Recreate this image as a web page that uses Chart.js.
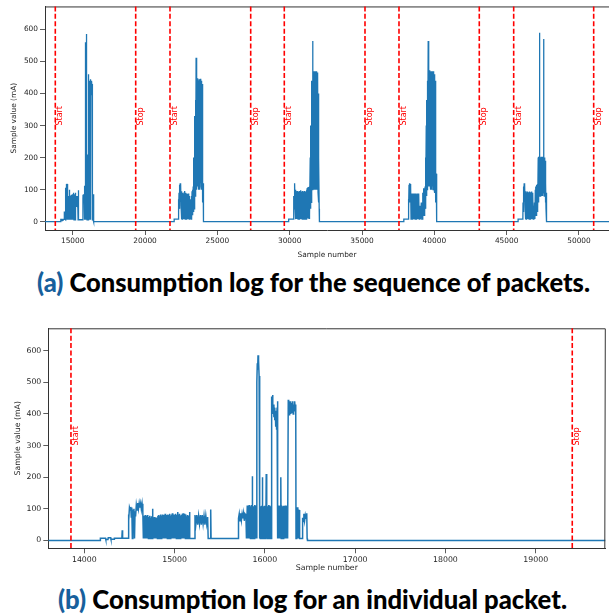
<!DOCTYPE html>
<html>
<head>
<meta charset="utf-8">
<script src="https://cdn.jsdelivr.net/npm/chart.js@4.4.1/dist/chart.umd.min.js"></script>
<style>
  html, body { margin: 0; padding: 0; background: #fff; overflow: hidden; }
  body { width: 609px; height: 614px; position: relative; }
  .box { position: absolute; left: 0; width: 609px; }
  #boxA { top: 0; height: 262px; }
  #boxB { top: 320px; height: 260px; }
  .caption {
    position: absolute; white-space: nowrap; transform-origin: left center;
    font-family: Lato, "Open Sans", sans-serif; font-weight: 900; font-size: 27px;
    line-height: 27px; color: #000;
  }
  .caption .tag { color: #17609c; }
</style>
</head>
<body>
<div class="box" id="boxA"><canvas id="chartA"></canvas></div>
<div class="caption" id="capA" style="left:37px; top:268px" data-w="553"><span class="tag">(a)</span> Consumption log for the sequence of packets.</div>
<div class="box" id="boxB"><canvas id="chartB"></canvas></div>
<div class="caption" id="capB" style="left:58px; top:585px" data-w="509"><span class="tag">(b)</span> Consumption log for an individual packet.</div>

<script>
// one packet, sample number -> current (mA) (b)
const packetB = [
  [13600, 0], [14175, 0], [14178, 7], [14235, 7], [14238, 3], [14262, 3], [14265, 8], [14292, 8], [14295, 4], [14330, 4], [14333, 7], [14416, 7], [14420, 32], [14424, 7], [14484, 7],
  [14488, 82], [14494, 62], [14500, 104], [14508, 96], [14514, 106], [14520, 74], [14526, 104], [14532, 6], [14538, 98], [14544, 70], [14550, 100], [14556, 6], [14562, 92], [14568, 76], [14576, 112], [14584, 96], [14592, 118], [14600, 100], [14608, 118], [14616, 104], [14624, 117], [14632, 98], [14640, 116], [14648, 90], [14654, 6],
  [14660, 6], [14665, 78], [14670, 6], [14675, 80], [14680, 6], [14685, 78], [14690, 6], [14695, 76], [14700, 6], [14705, 80], [14710, 6], [14715, 74], [14720, 6], [14725, 78], [14730, 6], [14735, 72], [14740, 6], [14745, 76], [14750, 6], [14755, 100],
  [14760, 6], [14765, 70], [14770, 6], [14775, 74], [14780, 6], [14785, 68], [14790, 6], [14795, 72], [14800, 6], [14805, 66], [14810, 6], [14815, 78], [14820, 6], [14825, 80], [14830, 6], [14835, 76], [14840, 6], [14845, 82], [14850, 6], [14855, 78],
  [14860, 6], [14865, 82], [14870, 6], [14875, 80], [14880, 6], [14885, 76], [14890, 6], [14895, 84], [14900, 6], [14905, 80], [14910, 6], [14915, 78], [14920, 6], [14925, 82], [14930, 6], [14935, 80], [14940, 6], [14945, 84], [14950, 6], [14955, 78],
  [14960, 6], [14965, 82], [14970, 6], [14975, 86], [14980, 6], [14985, 80], [14990, 6], [14995, 82], [15000, 6], [15005, 78], [15010, 6], [15015, 84], [15020, 6], [15025, 80], [15030, 6], [15035, 90], [15040, 6], [15045, 82], [15050, 6], [15055, 84],
  [15060, 6], [15065, 78], [15070, 6], [15075, 80], [15080, 6], [15085, 84], [15090, 6], [15095, 86], [15100, 6], [15105, 80], [15110, 6], [15115, 84], [15120, 6], [15125, 82], [15130, 6], [15135, 76], [15140, 6], [15145, 80], [15150, 6], [15155, 78],
  [15160, 6], [15165, 90], [15170, 6],
  [15222, 6], [15226, 80], [15236, 52], [15246, 80], [15256, 50], [15266, 78], [15276, 52], [15286, 80], [15296, 50], [15306, 80], [15316, 52], [15326, 78], [15336, 50], [15346, 78], [15356, 52], [15366, 74], [15372, 6], [15396, 6], [15400, 98], [15404, 6],
  [15705, 6], [15708, 70], [15716, 84], [15724, 60], [15732, 86], [15740, 64], [15748, 84], [15756, 70], [15764, 86], [15772, 62], [15780, 84], [15790, 80], [15796, 6],
  [15800, 6], [15805, 110], [15810, 6], [15815, 108], [15820, 6], [15825, 112], [15830, 6], [15835, 110], [15840, 6], [15845, 108], [15850, 6], [15855, 112], [15858, 6], [15860, 203], [15862, 6], [15865, 110], [15870, 6], [15875, 108], [15880, 6], [15885, 112], [15890, 6], [15895, 110], [15900, 6], [15905, 108], [15910, 6],
  [15912, 500], [15916, 560], [15920, 540], [15924, 586], [15928, 550], [15932, 570], [15936, 520], [15940, 6],
  [15945, 110], [15950, 6], [15955, 108], [15960, 6], [15965, 110], [15969, 6], [15971, 200], [15973, 6], [15978, 112], [15983, 6], [15988, 108], [15993, 6], [15998, 110], [16003, 6], [16008, 108], [16012, 6], [16015, 210], [16018, 6], [16023, 110], [16028, 6], [16033, 108], [16038, 6], [16043, 112], [16048, 6], [16053, 110], [16058, 6], [16063, 108], [16068, 6],
  [16075, 455], [16080, 420], [16085, 460], [16090, 400], [16095, 430], [16100, 390], [16105, 420], [16110, 380], [16115, 410], [16120, 360], [16125, 400], [16130, 350], [16135, 420], [16140, 440], [16143, 6],
  [16150, 110], [16155, 6], [16160, 108], [16165, 6], [16170, 110], [16175, 6], [16178, 200], [16181, 6], [16186, 110], [16191, 6], [16196, 108], [16201, 6], [16206, 110], [16211, 6], [16216, 108], [16221, 6], [16226, 110], [16231, 6], [16236, 108], [16241, 6], [16246, 110], [16252, 6],
  [16259, 445], [16264, 400], [16269, 440], [16274, 395], [16279, 430], [16284, 400], [16289, 440], [16294, 405], [16299, 435], [16304, 410], [16309, 440], [16314, 400], [16319, 430], [16324, 410], [16330, 440], [16336, 415], [16342, 430], [16345, 6],
  [16350, 100], [16355, 6], [16360, 105], [16365, 6], [16370, 98], [16375, 6], [16380, 96], [16385, 6],
  [16414, 6], [16418, 72], [16426, 60], [16432, 84], [16440, 62], [16448, 80], [16456, 70], [16464, 86], [16468, 6], [16472, 0], [19800, 0]
];

// the other four packets of the sequence (a)
const packetA2 = [
  [22015, 0], [22015, 8], [22300, 8], [22310, 70], [22330, 30], [22350, 90], [22370, 40], [22390, 115], [22410, 60], [22430, 120], [22450, 70], [22470, 118], [22490, 50], [22510, 95], [22530, 8], [22550, 88], [22570, 8], [22590, 90], [22610, 8], [22630, 86], [22650, 8], [22670, 88], [22690, 8], [22710, 92], [22730, 8], [22750, 96], [22770, 8], [22790, 90], [22810, 8], [22830, 86], [22850, 8], [22870, 88], [22890, 8], [22910, 86], [22930, 8], [22950, 84], [22970, 8], [22990, 88], [23010, 8], [23030, 86], [23050, 8], [23070, 80], [23090, 8], [23110, 60], [23140, 8], [23170, 70], [23190, 8], [23210, 80], [23230, 8], [23250, 95], [23270, 20], [23290, 100], [23310, 20], [23330, 110], [23350, 30], [23370, 200], [23390, 40], [23410, 260], [23430, 60], [23450, 330], [23470, 80], [23490, 380], [23510, 100], [23530, 512], [23545, 120], [23560, 440], [23575, 100], [23590, 450], [23605, 140], [23620, 440], [23640, 110], [23660, 448], [23680, 120], [23700, 440], [23720, 100], [23740, 445], [23760, 130], [23780, 440], [23800, 100], [23820, 446], [23840, 120], [23860, 438], [23880, 110], [23900, 440], [23920, 100], [23940, 430], [23960, 80], [23980, 200], [24000, 60], [24020, 120], [24040, 0]
];
const packetA3 = [
  [29930, 0], [29930, 8], [30270, 8], [30280, 80], [30300, 40], [30320, 120], [30340, 50], [30360, 118], [30380, 40], [30400, 100], [30420, 8], [30440, 95], [30460, 8], [30480, 92], [30500, 8], [30520, 96], [30540, 8], [30560, 90], [30580, 8], [30600, 94], [30620, 8], [30640, 90], [30660, 8], [30680, 96], [30700, 8], [30720, 92], [30740, 8], [30760, 98], [30780, 8], [30800, 94], [30820, 8], [30840, 92], [30860, 8], [30880, 96], [30900, 8], [30920, 90], [30940, 8], [30960, 94], [30980, 8], [31000, 92], [31020, 8], [31040, 96], [31060, 8], [31080, 90], [31100, 8], [31120, 94], [31140, 8], [31160, 98], [31180, 8], [31200, 104], [31220, 10], [31240, 106], [31260, 10], [31280, 108], [31300, 10], [31320, 104], [31340, 10], [31360, 110], [31380, 20], [31420, 200], [31440, 40], [31460, 300], [31480, 60], [31500, 380], [31520, 80], [31540, 440], [31560, 100], [31590, 564], [31605, 120], [31620, 470], [31640, 100], [31660, 468], [31680, 110], [31700, 470], [31720, 100], [31740, 465], [31760, 120], [31780, 468], [31800, 100], [31820, 470], [31840, 110], [31860, 462], [31880, 100], [31900, 466], [31920, 100], [31940, 460], [31960, 90], [31980, 400], [32000, 60], [32020, 200], [32040, 40], [32055, 0]
];
const packetA4 = [
  [37890, 0], [37890, 8], [38200, 8], [38210, 70], [38230, 40], [38250, 115], [38270, 60], [38290, 120], [38310, 70], [38330, 118], [38350, 60], [38370, 110], [38390, 8], [38410, 88], [38430, 8], [38450, 86], [38470, 8], [38490, 88], [38510, 8], [38530, 86], [38550, 8], [38570, 88], [38590, 8], [38610, 85], [38630, 8], [38650, 88], [38670, 8], [38690, 86], [38710, 8], [38730, 88], [38750, 8], [38770, 86], [38790, 8], [38810, 88], [38830, 8], [38850, 86], [38870, 8], [38890, 88], [38910, 8], [38930, 86], [38950, 8], [38980, 8], [39000, 50], [39030, 8], [39060, 8], [39100, 60], [39130, 8], [39160, 8], [39200, 90], [39220, 20], [39240, 104], [39260, 20], [39280, 100], [39300, 20], [39320, 104], [39340, 30], [39360, 110], [39380, 40], [39400, 200], [39420, 60], [39440, 300], [39460, 80], [39480, 380], [39500, 100], [39520, 440], [39540, 120], [39575, 564], [39590, 120], [39610, 460], [39630, 110], [39650, 473], [39670, 110], [39690, 470], [39710, 120], [39730, 466], [39750, 100], [39770, 470], [39790, 110], [39810, 468], [39830, 100], [39850, 470], [39870, 110], [39890, 466], [39910, 100], [39930, 470], [39950, 110], [39970, 466], [39990, 100], [40010, 460], [40030, 90], [40050, 440], [40070, 80], [40090, 300], [40110, 60], [40130, 150], [40150, 40], [40170, 0]
];
const packetA5 = [
  [45790, 0], [45790, 8], [46120, 8], [46130, 60], [46150, 30], [46170, 110], [46190, 60], [46210, 120], [46230, 70], [46250, 118], [46270, 50], [46290, 95], [46310, 8], [46330, 92], [46350, 8], [46370, 90], [46390, 8], [46410, 94], [46430, 8], [46450, 90], [46470, 8], [46490, 92], [46510, 8], [46530, 90], [46550, 8], [46570, 94], [46590, 8], [46610, 90], [46630, 8], [46650, 92], [46670, 8], [46690, 90], [46710, 8], [46730, 94], [46750, 8], [46770, 90], [46790, 8], [46810, 88], [46830, 8], [46860, 50], [46880, 8], [46920, 60], [46950, 8], [46980, 100], [47000, 20], [47020, 110], [47040, 20], [47060, 115], [47080, 30], [47100, 112], [47120, 30], [47140, 118], [47160, 40], [47180, 200], [47200, 60], [47220, 203], [47240, 80], [47260, 200], [47272, 590], [47280, 100], [47300, 203], [47320, 80], [47340, 200], [47360, 90], [47380, 203], [47400, 80], [47420, 200], [47440, 90], [47460, 203], [47480, 80], [47500, 200], [47520, 90], [47548, 570], [47560, 100], [47580, 203], [47600, 80], [47620, 200], [47640, 90], [47660, 190], [47680, 60], [47700, 120], [47720, 40], [47740, 90], [47770, 0]
];

// start / stop markers (sample number)
const startsA = [13797, 21726, 29627, 37556, 45485];
const stopsA = [19355, 27305, 35206, 43107, 51015];
const startsB = [13852];
const stopsB = [19405];

// tick labels
const xTicksA = [15000, 20000, 25000, 30000, 35000, 40000, 45000, 50000];
const xTicksB = [14000, 15000, 16000, 17000, 18000, 19000];
const yTicks = [0, 100, 200, 300, 400, 500, 600];

const sequenceA = [[13000, 0], ...packetB, ...packetA2, ...packetA3, ...packetA4, ...packetA5, [52500, 0]];

/* draws the red dashed start/stop lines, their labels and the top/right frame */
const markersPlugin = {
  id: 'markers',
  afterDatasetsDraw(chart, args, opts) {
    const { ctx, chartArea, scales } = chart;
    const x = scales.x, y = scales.y;
    ctx.save();
    ctx.strokeStyle = '#333';
    ctx.lineWidth = 1;
    ctx.beginPath();
    ctx.moveTo(chartArea.left, chartArea.top + 0.5);
    ctx.lineTo(chartArea.right, chartArea.top + 0.5);
    if (opts.frameRight) {
      ctx.lineTo(chartArea.right - 0.5, chartArea.bottom);
    }
    ctx.stroke();

    const marks = opts.starts.map(v => [v, 'Start']).concat(opts.stops.map(v => [v, 'Stop']));
    marks.forEach(([v, label]) => {
      const px = x.getPixelForValue(v);
      ctx.strokeStyle = '#ff0000';
      ctx.lineWidth = 1.6;
      ctx.setLineDash([5, 2.4]);
      ctx.beginPath();
      ctx.moveTo(px, chartArea.top);
      ctx.lineTo(px, chartArea.bottom);
      ctx.stroke();
      ctx.setLineDash([]);
      ctx.save();
      ctx.translate(px + 1, y.getPixelForValue(300));
      ctx.rotate(-Math.PI / 2);
      ctx.fillStyle = '#ff0000';
      ctx.font = opts.fontSize + 'px "DejaVu Sans"';
      ctx.textAlign = 'left';
      ctx.textBaseline = 'top';
      ctx.fillText(label, 0, 0);
      ctx.restore();
    });
    ctx.restore();
  }
};

function buildChart(id, series, look) {
  const font = { family: '"DejaVu Sans"', size: look.fontSize };
  return new Chart(document.getElementById(id), {
    type: 'line',
    data: {
      datasets: [{
        data: series,
        borderColor: '#1f77b4',
        borderWidth: look.lineWidth,
        pointRadius: 0,
        fill: false,
        tension: 0
      }]
    },
    options: {
      animation: false,
      responsive: true,
      maintainAspectRatio: false,
      layout: { padding: look.padding },
      plugins: {
        legend: { display: false },
        tooltip: { enabled: false },
        markers: { starts: look.starts, stops: look.stops, frameRight: look.frameRight, fontSize: 8 }
      },
      scales: {
        x: {
          type: 'linear',
          min: look.xMin,
          max: look.xMax,
          afterBuildTicks: s => { s.ticks = look.xTicks.map(v => ({ value: v })); },
          afterFit: s => { s.height = look.xHeight; },
          grid: { drawOnChartArea: false, tickLength: 5, color: '#333', tickWidth: 0.8 },
          border: { display: true, color: '#333', width: 1 },
          ticks: {
            autoSkip: false, maxRotation: 0,
            padding: look.xTickPad, color: '#262626', font, callback: v => String(v)
          },
          title: { display: true, text: 'Sample number', color: '#262626', font, padding: { top: 0, bottom: look.xTitlePad } }
        },
        y: {
          type: 'linear',
          min: look.yMin,
          max: look.yMax,
          afterBuildTicks: s => { s.ticks = yTicks.map(v => ({ value: v })); },
          afterFit: s => { s.width = look.yWidth; },
          grid: { drawOnChartArea: false, tickLength: 5, color: '#333', tickWidth: 0.8 },
          border: { display: true, color: '#333', width: 1 },
          ticks: {
            autoSkip: false, padding: 2,
            color: '#262626', font, callback: v => String(v)
          },
          title: { display: true, text: 'Sample value (mA)', color: '#262626', font, padding: { top: look.yTitlePad, bottom: 0 } }
        }
      }
    },
    plugins: [markersPlugin]
  });
}

buildChart('chartA', sequenceA, {
  xMin: 13085, xMax: 52074, xTicks: xTicksA, yMin: -26, yMax: 672,
  starts: startsA, stops: stopsA, frameRight: false,
  padding: { top: 6, left: 0, right: 0, bottom: 0 },
  xHeight: 32, yWidth: 45, fontSize: 7.4, lineWidth: 1.3,
  xTickPad: 2, xTitlePad: 2.5, yTitlePad: 9.5
});

buildChart('chartB', packetB, {
  xMin: 13601, xMax: 19771, xTicks: xTicksB, yMin: -25, yMax: 671,
  starts: startsB, stops: stopsB, frameRight: true,
  padding: { top: 8.3, left: 0, right: 3.7, bottom: 0 },
  xHeight: 31.7, yWidth: 48.3, fontSize: 7.8, lineWidth: 1.5,
  xTickPad: 1.5, xTitlePad: 7, yTitlePad: 13.6
});

// squeeze the captions to the width they take in the figure
document.querySelectorAll('.caption').forEach(el => {
  const w = el.getBoundingClientRect().width;
  el.style.transform = 'scaleX(' + (Number(el.dataset.w) / w) + ')';
});
</script>
</body>
</html>
